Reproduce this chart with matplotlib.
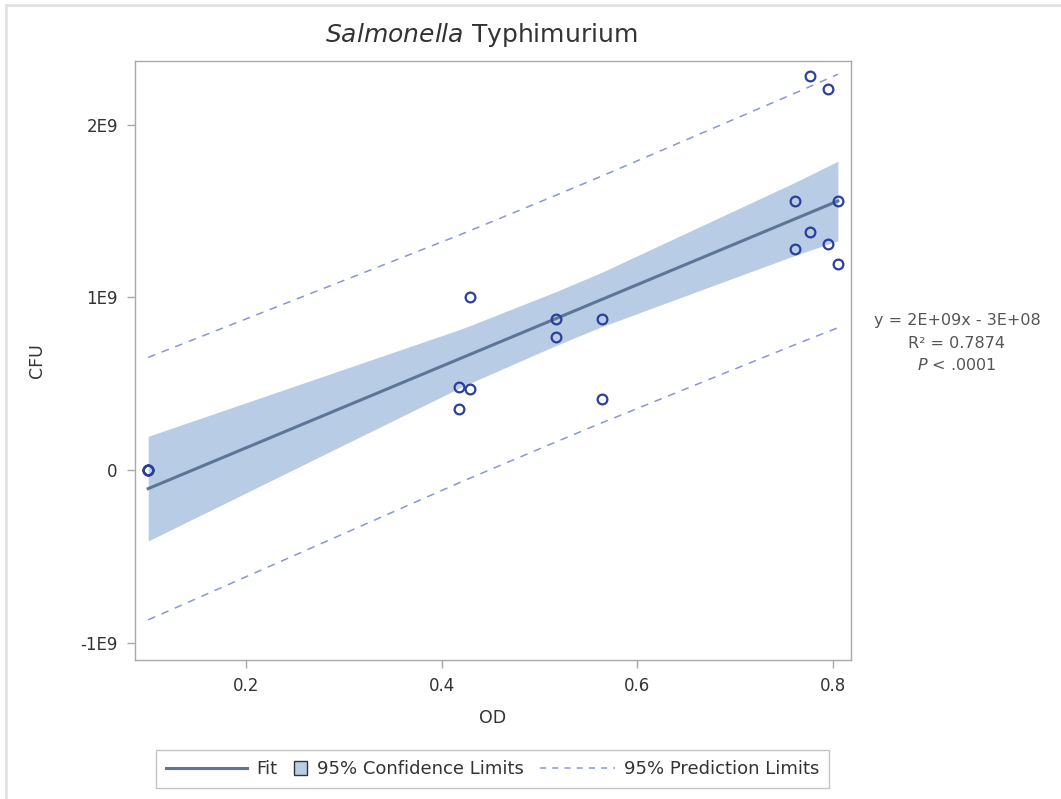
import numpy as np
import matplotlib
matplotlib.use("Agg")
import matplotlib.pyplot as plt
from matplotlib.lines import Line2D
from matplotlib.patches import Rectangle
from matplotlib.legend_handler import HandlerBase, HandlerLine2D
from matplotlib.ticker import FuncFormatter

plt.rcParams["font.family"] = ["DejaVu Sans"]
plt.rcParams["mathtext.fontset"] = "dejavusans"

# OD readings and plate counts (CFU)
od = [0.100, 0.100, 0.100, 0.100,
      0.418, 0.418, 0.429, 0.429,
      0.517, 0.517, 0.564, 0.564,
      0.761, 0.761, 0.776, 0.776,
      0.795, 0.795, 0.805, 0.805]
cfu = [0.0, 0.0, 0.0, 0.0,
       0.353e9, 0.480e9, 0.469e9, 1.000e9,
       0.874e9, 0.770e9, 0.874e9, 0.410e9,
       1.558e9, 1.280e9, 1.378e9, 2.280e9,
       2.206e9, 1.309e9, 1.558e9, 1.193e9]

x_ticks = [0.2, 0.4, 0.6, 0.8]
y_ticks = [-1e9, 0, 1e9, 2e9]
eq_lines = ["y = 2E+09x - 3E+08", "R² = 0.7874", r"$\it{P}$ < .0001"]
legend_labels = ["Fit", "95% Confidence Limits", "95% Prediction Limits"]

# least squares fit with 95% confidence / prediction limits
x = np.array(od)
y = np.array(cfu)
n = len(x)
slope, intercept = np.polyfit(x, y, 1)
resid = y - (slope * x + intercept)
s = np.sqrt(np.sum(resid ** 2) / (n - 2))
t_crit = 2.1009  # t(0.975, df=18)
xm = x.mean()
sxx = np.sum((x - xm) ** 2)
xs = np.unique(x)
yfit = slope * xs + intercept
se_mean = s * np.sqrt(1.0 / n + (xs - xm) ** 2 / sxx)
se_pred = s * np.sqrt(1.0 + 1.0 / n + (xs - xm) ** 2 / sxx)

fit_color = "#5d7596"
band_color = "#b9cce5"
pred_color = "#8896d8"
marker_color = "#2b3f9c"
text_color = "#333333"
grey = "#a8a8a8"

fig = plt.figure(figsize=(10.61, 7.99), dpi=100)
ax = fig.add_axes([134.5 / 1061, 1 - 660 / 799, (851 - 134.5) / 1061, (660 - 61) / 799])

ax.fill_between(xs, yfit - t_crit * se_mean, yfit + t_crit * se_mean,
                color=band_color, lw=0, zorder=1)
ax.plot(xs, yfit, color=fit_color, lw=2.2, zorder=3)
ax.plot(xs, yfit + t_crit * se_pred, color=pred_color, lw=1.1,
        dashes=(5, 4.5), zorder=2)
ax.plot(xs, yfit - t_crit * se_pred, color=pred_color, lw=1.1,
        dashes=(5, 4.5), zorder=2)
ax.plot(x, y, "o", ms=7, mfc="none", mec=marker_color, mew=1.6, zorder=4)

ax.set_xlim(0.0860, 0.8184)
ax.set_ylim(-1.10e9, 2.368e9)
ax.set_xticks(x_ticks)
ax.set_yticks(y_ticks)
ax.xaxis.set_major_formatter(FuncFormatter(lambda v, p: f"{v:.1f}"))
ax.yaxis.set_major_formatter(
    FuncFormatter(lambda v, p: "0" if v == 0 else f"{v / 1e9:.0f}E9"))
ax.tick_params(length=6, width=1, color=grey, labelsize=12,
               labelcolor=text_color, pad=6)
for sp in ax.spines.values():
    sp.set_color(grey)
    sp.set_linewidth(1)

ax.set_xlabel("OD", fontsize=12.5, color=text_color)
ax.set_ylabel("CFU", fontsize=12.5, color=text_color)
ax.yaxis.set_label_coords(-(134.5 - 46) / (851 - 134.5), 0.5)
ax.xaxis.set_label_coords(0.5, -(709 - 660) / 599)

fig.text(481 / 1061, 1 - 35 / 799, r"$\it{Salmonella}$ Typhimurium",
         fontsize=18, color=text_color, ha="center", va="center")

for i, line in enumerate(eq_lines):
    fig.text(957 / 1061, 1 - (321 + 22 * i) / 799, line, fontsize=11.5,
             color="#555555", ha="center", va="center")

# partial outer border
fig.add_artist(Line2D([6 / 1061, 1], [1 - 5 / 799] * 2, color="#e2e2e2", lw=2))
fig.add_artist(Line2D([6 / 1061] * 2, [0, 1 - 5 / 799], color="#e2e2e2", lw=2))


class SquareHandler(HandlerBase):
    def legend_artist(self, legend, orig_handle, fontsize, handlebox):
        handlebox.width = 10.0
        return super().legend_artist(legend, orig_handle, fontsize, handlebox)

    def create_artists(self, legend, orig_handle, xdescent, ydescent,
                       width, height, fontsize, trans):
        size = 10.0
        sq = Rectangle((-xdescent, -ydescent + (height - size) / 2), size, size,
                       facecolor=band_color, edgecolor="#333333", lw=1,
                       transform=trans)
        return [sq]


class ShortLineHandler(HandlerLine2D):
    def legend_artist(self, legend, orig_handle, fontsize, handlebox):
        handlebox.width = 54.0
        return super().legend_artist(legend, orig_handle, fontsize, handlebox)


fit_handle = Line2D([], [], color=fit_color, lw=2.2)
band_handle = Rectangle((0, 0), 1, 1, facecolor=band_color)
pred_handle = Line2D([], [], color=pred_color, lw=1.1, dashes=(4, 4))

leg = fig.legend([fit_handle, band_handle, pred_handle], legend_labels,
                 loc="center", bbox_to_anchor=(492.5 / 1061, 1 - 769 / 799),
                 ncol=3, fontsize=13, frameon=True, fancybox=False,
                 edgecolor="#c4c4c4", framealpha=1, handlelength=4.5,
                 handletextpad=0.5, columnspacing=0.9, borderpad=0.55,
                 handler_map={band_handle: SquareHandler(),
                              pred_handle: ShortLineHandler()})
leg.get_frame().set_linewidth(1)
for t in leg.get_texts():
    t.set_color(text_color)

fig.savefig("out.png", dpi=100)
